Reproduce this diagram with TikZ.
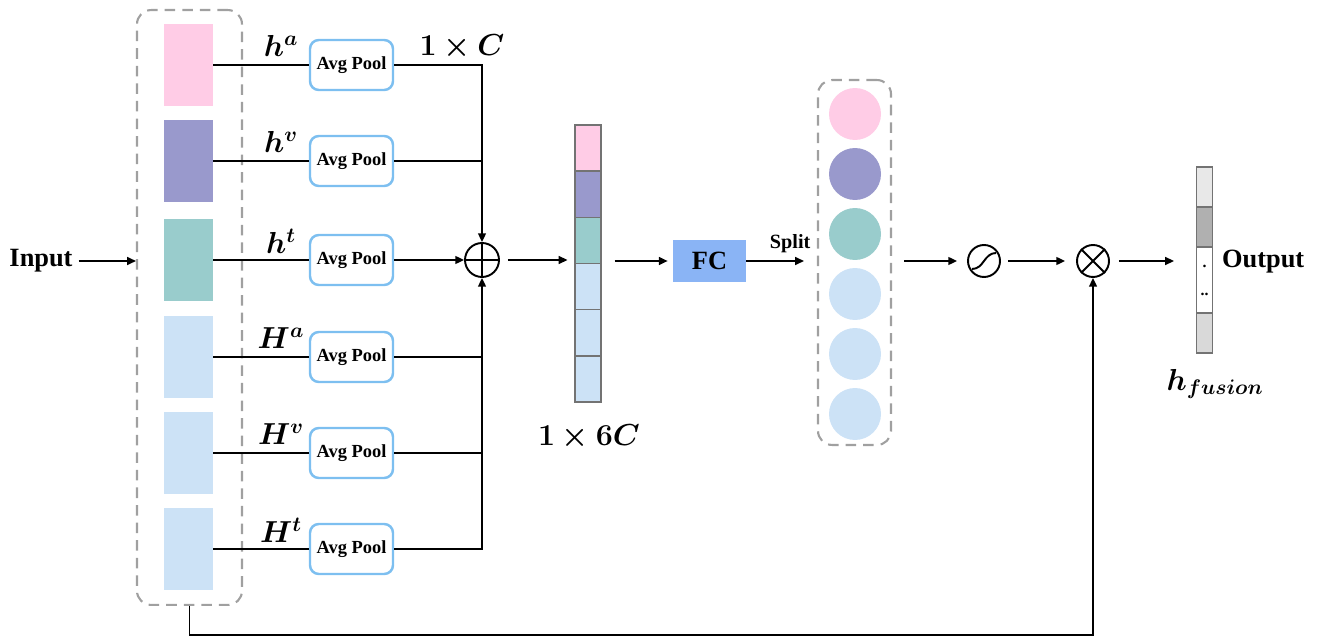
\documentclass[tikz,border=0pt]{standalone}
\usepackage{amsmath,bm}
\usepackage{fontspec}
\setmainfont{Liberation Serif}
\usetikzlibrary{arrows.meta}

\definecolor{pinkc}{HTML}{FFCCE6}
\definecolor{purplec}{HTML}{9999CC}
\definecolor{tealc}{HTML}{99CCCC}
\definecolor{bluec}{HTML}{CCE2F6}
\definecolor{fcblue}{HTML}{8AB4F5}
\definecolor{poolblue}{HTML}{7DBFF0}
\definecolor{dashgray}{HTML}{A0A0A0}

\tikzset{
    bar/.style={fill=#1, minimum width=0.98cm, minimum height=1.64cm, inner sep=0},
    pool/.style={draw=poolblue, line width=1.4pt, rounded corners=5pt, fill=white, minimum width=1.66cm, minimum height=1cm, inner sep=0, font=\fontsize{10.5}{12}\selectfont\bfseries},
    cell/.style={draw=black!55, line width=0.6pt, fill=#1, minimum width=0.52cm, minimum height=0.92cm, inner sep=0},
    ocell/.style={draw=black!55, line width=0.6pt, fill=#1, minimum width=0.32cm, inner sep=0},
    ball/.style={circle, fill=#1, minimum size=1.04cm, inner sep=0},
    op/.style={circle, draw, line width=1.1pt, minimum size=0.64cm, inner sep=0},
    conn/.style={line width=1pt},
    arr/.style={line width=1pt, -{Triangle[length=5pt,width=4.5pt]}},
    group/.style={draw=dashgray, dash pattern=on 6pt off 4pt, line width=1.2pt, rounded corners=8pt, inner sep=0},
    lab/.style={font=\fontsize{15}{18}\selectfont\bfseries},
    mlab/.style={font=\fontsize{18}{21}\selectfont},
}

\begin{document}
\begin{tikzpicture}[x=0.02cm,y=-0.02cm]
    \useasboundingbox (0,0) rectangle (1318,638);

    % input group
    \node[group, minimum width=2.1cm, minimum height=11.9cm] (grp) at (189.5,307.5) {};
    \node[lab] (input) at (41,261) {Input};
    \draw[arr] (input.east) -- (input.east -| grp.west);

    % rows: bar, label, avg pool
    \foreach \i/\y/\c/\l in {1/65/pinkc/h^{a}, 2/161/purplec/h^{v}, 3/260/tealc/h^{t},
                             4/357/bluec/H^{a}, 5/453/bluec/H^{v}, 6/549/bluec/H^{t}} {
        \node[bar=\c] (bar\i) at (188.5,\y) {};
        \node[pool] (pool\i) at (351.5,\y) {Avg Pool};
        \draw[conn] (bar\i.east) -- (pool\i.west);
        \node[mlab] (lab\i) at (281,\y-19) {$\bm{\l}$};
    }
    \node[mlab] (dimc) at (462,47) {$\bm{1\times C}$};

    % sum
    \node[op, minimum size=0.68cm] (plus) at (482,260) {};
    \draw[line width=1.1pt] (plus.north) -- (plus.south) (plus.west) -- (plus.east);
    \draw[arr] (pool1.east) -| (plus.north);
    \draw[conn] (pool2.east) -- (pool2.east -| plus);
    \draw[arr] (pool3.east) -- (plus.west);
    \draw[conn] (pool4.east) -- (pool4.east -| plus);
    \draw[conn] (pool5.east) -- (pool5.east -| plus);
    \draw[arr] (pool6.east) -| (plus.south);

    % concatenated vector
    \foreach \i/\c in {1/pinkc, 2/purplec, 3/tealc, 4/bluec, 5/bluec, 6/bluec}
        \node[cell=\c] (v\i) at (588,148+46.2*\i-46.2) {};
    \node[mlab] (dim6c) at (589,437) {$\bm{1\times 6C}$};
    \draw[arr, shorten <=0.16cm, shorten >=0.14cm] (plus.east) -- (plus -| v1.west);

    % FC
    \node[fill=fcblue, minimum width=1.46cm, minimum height=0.86cm, inner sep=0, lab] (fc) at (709.5,261) {FC};
    \draw[arr, shorten <=0.26cm, shorten >=0.1cm] (fc.west -| v1.east) -- (fc.west);

    % split
    \node[group, minimum width=1.46cm, minimum height=7.3cm] (grp2) at (854.5,262.5) {};
    \foreach \i/\y/\c in {1/114/pinkc, 2/174/purplec, 3/234/tealc, 4/294/bluec, 5/354/bluec, 6/414/bluec}
        \node[ball=\c] (ball\i) at (855,\y) {};
    \draw[arr, shorten >=0.26cm] (fc.east) -- (fc.east -| grp2.west)
        node[pos=0.62, above=1pt, font=\fontsize{11.5}{13}\selectfont\bfseries] {Split};

    % sigmoid and product
    \node[op] (sig) at (984,261) {};
    \draw[line width=1.1pt] ([shift={(-12,8)}]sig.center) .. controls +(12,0) and +(-12,0) .. ([shift={(12,-8)}]sig.center);
    \node[op] (mul) at (1093,261) {};
    \draw[line width=1.1pt] (mul.north west) -- (mul.south east) (mul.north east) -- (mul.south west);
    \draw[arr, shorten <=0.24cm, shorten >=0.2cm] (grp2.east |- sig) -- (sig.west);
    \draw[arr, shorten <=0.14cm, shorten >=0.22cm] (sig.east) -- (mul.west);

    % output vector
    \node[ocell=black!9, minimum height=0.8cm] (o1) at (1204.5,187) {};
    \node[ocell=black!31, minimum height=0.8cm] (o2) at (1204.5,227) {};
    \node[ocell=white, minimum height=1.32cm] (o3) at (1204.5,280) {};
    \node[ocell=black!15, minimum height=0.8cm] (o4) at (1204.5,333) {};
    \node[font=\bfseries\small, inner sep=0] (dot1) at (1204.5,266) {.};
    \node[font=\bfseries\small, inner sep=0] (dot2) at (1204.5,294) {..};
    \draw[arr, shorten <=0.18cm, shorten >=0.44cm] (mul.east) -- (mul -| o3.west);
    \node[lab, anchor=west] (output) at (1216,262) {Output};
    \node[mlab] (hfus) at (1215,384) {$\bm{h_{fusion}}$};

    % skip path
    \draw[arr] (grp.south) -- ++(0,29) -| (mul.south);
\end{tikzpicture}
\end{document}
